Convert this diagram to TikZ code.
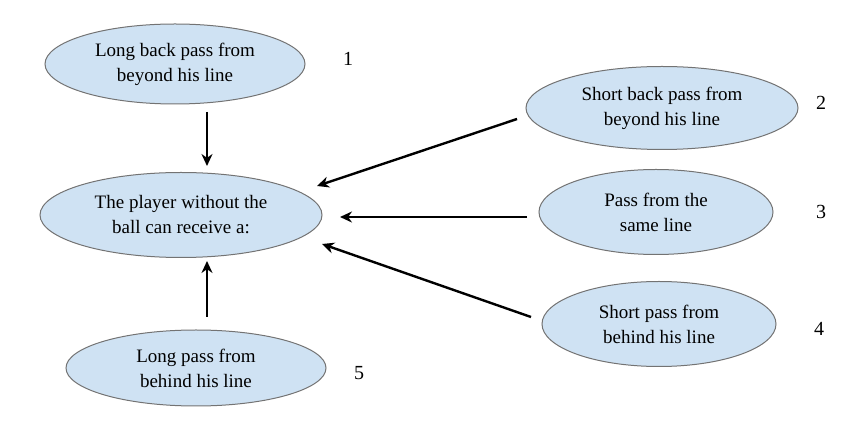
\documentclass[tikz,border=0pt]{standalone}
\usepackage{fontspec}
\setmainfont{Liberation Serif}
\usetikzlibrary{shapes.geometric,positioning,arrows.meta}
\definecolor{bubble}{HTML}{CFE2F3}
\tikzset{
  pass/.style={ellipse, draw=black!55, line width=1pt, fill=bubble, align=center,
    minimum width=260pt, minimum height=80pt, inner sep=0pt,
    font=\fontsize{19}{25}\selectfont},
  num/.style={font=\fontsize{20}{22}\selectfont},
  link/.style={-{Stealth[length=12pt,width=11pt]}, line width=2.4pt}
}
\begin{document}
\begin{tikzpicture}[x=1pt, y=-1pt]
\useasboundingbox (0,0) rectangle (863,427);
\node[pass] (lb) at (175,64) {Long back pass from\\beyond his line};
\node[pass, minimum width=282pt, minimum height=85pt] (rec) at (181,215) {The player without the\\ball can receive a:};
\node[pass, minimum height=76pt] (lp) at (196,368) {Long pass from\\behind his line};
\node[pass, minimum width=272pt, minimum height=83pt] (sb) at (662,108) {Short back pass from\\beyond his line};
\node[pass, minimum width=234pt, minimum height=85pt] (sl) at (656,212) {Pass from the\\same line};
\node[pass, minimum width=234pt, minimum height=85pt] (sp) at (659,324) {Short pass from\\behind his line};
% numbers
\node[num] at (348,59) {1};
\node[num] at (821,103) {2};
\node[num] at (821,212) {3};
\node[num] at (819,329) {4};
\node[num] at (359,373) {5};
% arrows
\coordinate (t1) at (207,112);
\coordinate (h1) at (207,166);
\draw[link] (t1) -- (h1);
\coordinate (t5) at (207,317);
\coordinate (h5) at (207,261);
\draw[link] (t5) -- (h5);
\coordinate (t2) at (517,119);
\coordinate (h2) at (317,186);
\draw[link] (t2) -- (h2);
\coordinate (t3) at (527,217);
\coordinate (h3) at (340,217);
\draw[link] (t3) -- (h3);
\coordinate (t4) at (531,317);
\coordinate (h4) at (322,244);
\draw[link] (t4) -- (h4);
\end{tikzpicture}
\end{document}
